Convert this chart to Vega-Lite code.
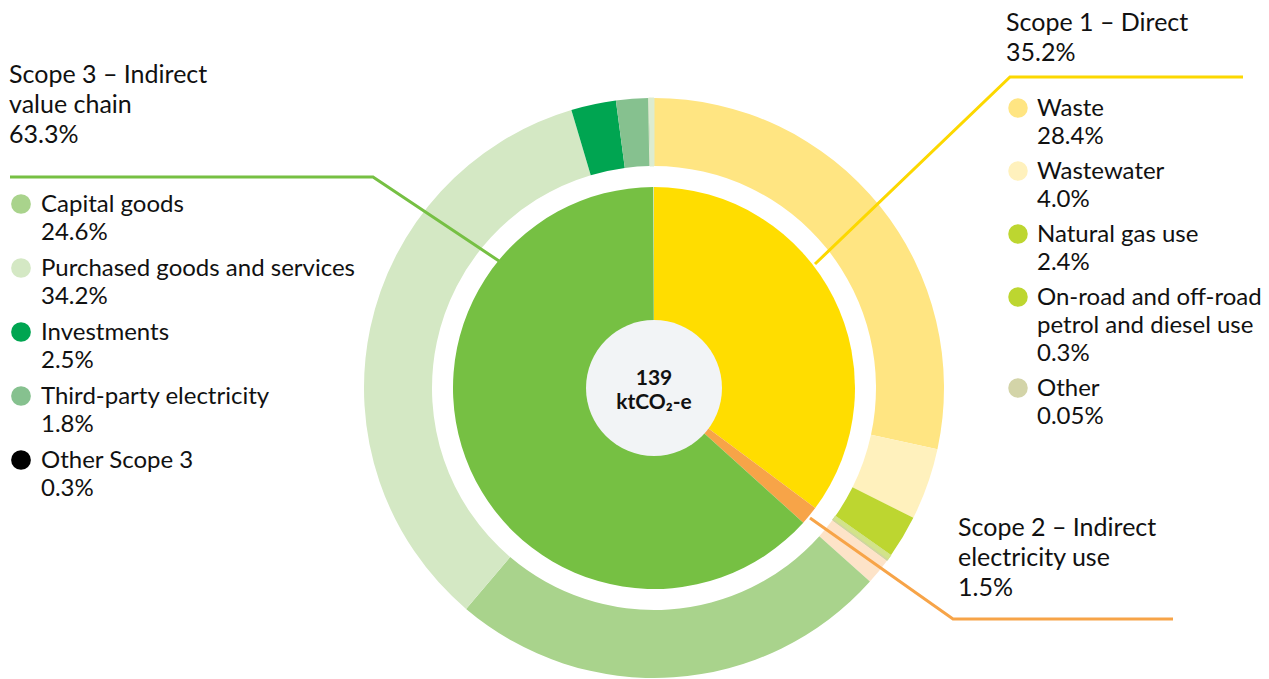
{
  "$schema": "https://vega.github.io/schema/vega-lite/v6.json",
  "width": 1269,
  "height": 679,
  "autosize": {"type": "fit", "contains": "padding"},
  "padding": 0,
  "background": "white",
  "config": {"view": {"stroke": null}, "font": "Lato", "text": {"font": "Lato"}},
  "datasets": {
    "ring": [
      {"scope": "Scope 1", "category": "Waste", "share": 28.4, "pct": "28.4%"},
      {"scope": "Scope 1", "category": "Wastewater", "share": 4.0, "pct": "4.0%"},
      {"scope": "Scope 1", "category": "Natural gas use", "share": 2.4, "pct": "2.4%"},
      {"scope": "Scope 1", "category": "On-road and off-road petrol and diesel use", "share": 0.3, "pct": "0.3%"},
      {"scope": "Scope 1", "category": "Other", "share": 0.05, "pct": "0.05%"},
      {"scope": "Scope 2", "category": "Electricity use", "share": 1.5, "pct": "1.5%"},
      {"scope": "Scope 3", "category": "Capital goods", "share": 24.6, "pct": "24.6%"},
      {"scope": "Scope 3", "category": "Purchased goods and services", "share": 34.2, "pct": "34.2%"},
      {"scope": "Scope 3", "category": "Investments", "share": 2.5, "pct": "2.5%"},
      {"scope": "Scope 3", "category": "Third-party electricity", "share": 1.8, "pct": "1.8%"},
      {"scope": "Scope 3", "category": "Other Scope 3", "share": 0.3, "pct": "0.3%"}
    ],
    "scopes": [
      {"scope": "Scope 1", "share": 35.2},
      {"scope": "Scope 2", "share": 1.5},
      {"scope": "Scope 3", "share": 63.3}
    ],
    "leaders": [
      {"scope": "Scope 3", "seq": 1, "lx": -644, "ly": 211},
      {"scope": "Scope 3", "seq": 2, "lx": -281, "ly": 211},
      {"scope": "Scope 3", "seq": 3, "lx": -155, "ly": 127},
      {"scope": "Scope 1", "seq": 1, "lx": 589, "ly": 311},
      {"scope": "Scope 1", "seq": 2, "lx": 356, "ly": 311},
      {"scope": "Scope 1", "seq": 3, "lx": 161, "ly": 124},
      {"scope": "Scope 2", "seq": 1, "lx": 156, "ly": -130},
      {"scope": "Scope 2", "seq": 2, "lx": 299, "ly": -231},
      {"scope": "Scope 2", "seq": 3, "lx": 519, "ly": -231}
    ]
  },
  "layer": [
    {
      "data": {"name": "ring"},
      "transform": [
        {"stack": "share", "groupby": [], "as": ["v0", "v1"]},
        {"filter": "datum.scope === 'Scope 1'"},
        {"calculate": "datum.category + '|' + datum.pct", "as": "key"}
      ],
      "mark": {"type": "arc", "radius": 290, "radius2": 222},
      "encoding": {
        "x": {"datum": 0, "type": "quantitative", "scale": {"domain": [-654, 615], "nice": false, "zero": false}, "axis": null},
        "y": {"datum": 0, "type": "quantitative", "scale": {"domain": [-291, 388], "nice": false, "zero": false}, "axis": null},
        "theta": {"field": "v0", "type": "quantitative", "scale": {"domain": [0, 100.05]}},
        "theta2": {"field": "v1"},
        "color": {
          "field": "key",
          "type": "nominal",
          "scale": {
            "domain": ["Waste|28.4%", "Wastewater|4.0%", "Natural gas use|2.4%", "On-road and off-road petrol and diesel use|0.3%", "Other|0.05%"],
            "range": ["#ffe582", "#fff1bd", "#bdd630", "#bdd630", "#d3d4a8"]
          },
          "legend": {
            "orient": "none",
            "legendX": 1006,
            "legendY": 11,
            "title": ["Scope 1 – Direct", "35.2%"],
            "titleFont": "Lato",
            "titleFontSize": 25,
            "titleFontWeight": "normal",
            "titleColor": "#111111",
            "titleLineHeight": 30,
            "titleBaseline": "top",
            "titleLimit": 600,
            "titlePadding": 30,
            "labelFont": "Lato",
            "labelFontSize": 24,
            "labelColor": "#111111",
            "labelLimit": 600,
            "labelBaseline": "alphabetic",
            "labelOffset": 7,
            "labelExpr": "split(replace(datum.label, 'off-road petrol', 'off-road|petrol'), '|')",
            "symbolType": "circle",
            "symbolSize": 380,
            "symbolStrokeWidth": 0,
            "symbolOpacity": 1,
            "rowPadding": 10,
            "encode": {
              "labels": {"update": {"dy": {"value": 8}, "lineHeight": {"value": 28}}}
            }
          }
        }
      }
    },
    {
      "data": {"name": "ring"},
      "transform": [
        {"stack": "share", "groupby": [], "as": ["v0", "v1"]},
        {"filter": "datum.scope === 'Scope 2'"}
      ],
      "mark": {"type": "arc", "radius": 290, "radius2": 222},
      "encoding": {
        "x": {"datum": 0, "type": "quantitative", "scale": {"domain": [-654, 615], "nice": false, "zero": false}, "axis": null},
        "y": {"datum": 0, "type": "quantitative", "scale": {"domain": [-291, 388], "nice": false, "zero": false}, "axis": null},
        "theta": {"field": "v0", "type": "quantitative", "scale": {"domain": [0, 100.05]}},
        "theta2": {"field": "v1"},
        "color": {"field": "category", "type": "nominal", "scale": {"range": ["#fde3c8"]}, "legend": null}
      }
    },
    {
      "data": {"name": "ring"},
      "transform": [
        {"stack": "share", "groupby": [], "as": ["v0", "v1"]},
        {"filter": "datum.scope === 'Scope 3'"},
        {"calculate": "datum.category + '|' + datum.pct", "as": "key"}
      ],
      "mark": {"type": "arc", "radius": 290, "radius2": 222},
      "encoding": {
        "x": {"datum": 0, "type": "quantitative", "scale": {"domain": [-654, 615], "nice": false, "zero": false}, "axis": null},
        "y": {"datum": 0, "type": "quantitative", "scale": {"domain": [-291, 388], "nice": false, "zero": false}, "axis": null},
        "theta": {"field": "v0", "type": "quantitative", "scale": {"domain": [0, 100.05]}},
        "theta2": {"field": "v1"},
        "color": {
          "field": "key",
          "type": "nominal",
          "scale": {
            "domain": ["Capital goods|24.6%", "Purchased goods and services|34.2%", "Investments|2.5%", "Third-party electricity|1.8%", "Other Scope 3|0.3%"],
            "range": ["#a9d38c", "#d4e8c4", "#00a551", "#86c18f", "#000000"]
          },
          "legend": {
            "orient": "none",
            "legendX": 9,
            "legendY": 63,
            "title": ["Scope 3 – Indirect", "value chain", "63.3%"],
            "titleFont": "Lato",
            "titleFontSize": 25,
            "titleFontWeight": "normal",
            "titleColor": "#111111",
            "titleLineHeight": 30,
            "titleBaseline": "top",
            "titleLimit": 600,
            "titlePadding": 44,
            "labelFont": "Lato",
            "labelFontSize": 24,
            "labelColor": "#111111",
            "labelLimit": 600,
            "labelBaseline": "alphabetic",
            "labelOffset": 8,
            "labelExpr": "split(datum.label, '|')",
            "symbolType": "circle",
            "symbolSize": 390,
            "symbolStrokeWidth": 0,
            "symbolOpacity": 1,
            "rowPadding": 11,
            "encode": {
              "labels": {"update": {"dy": {"value": 8}, "lineHeight": {"value": 28}}}
            }
          }
        }
      }
    },
    {
      "data": {"name": "ring"},
      "transform": [
        {"stack": "share", "groupby": [], "as": ["v0", "v1"]},
        {"filter": "datum.category === 'Other Scope 3' || datum.category === 'On-road and off-road petrol and diesel use' || datum.category === 'Other'"}
      ],
      "mark": {"type": "arc", "radius": 290, "radius2": 222, "strokeWidth": 1},
      "encoding": {
        "x": {"datum": 0, "type": "quantitative", "scale": {"domain": [-654, 615], "nice": false, "zero": false}, "axis": null},
        "y": {"datum": 0, "type": "quantitative", "scale": {"domain": [-291, 388], "nice": false, "zero": false}, "axis": null},
        "theta": {"field": "v0", "type": "quantitative", "scale": {"domain": [0, 100.05]}},
        "theta2": {"field": "v1"},
        "color": {"field": "category", "type": "nominal", "scale": {"domain": ["On-road and off-road petrol and diesel use", "Other", "Other Scope 3"], "range": ["#d2e38a", "#cfd6a0", "#dcecd0"]}, "legend": null},
        "stroke": {"field": "category", "type": "nominal", "scale": {"domain": ["On-road and off-road petrol and diesel use", "Other", "Other Scope 3"], "range": ["#d2e38a", "#cfd6a0", "#dcecd0"]}, "legend": null}
      }
    },
    {
      "data": {"name": "scopes"},
      "transform": [
        {"stack": "share", "groupby": [], "as": ["v0", "v1"]}
      ],
      "mark": {"type": "arc", "radius": 201, "radius2": 0},
      "encoding": {
        "x": {"datum": 0, "type": "quantitative", "scale": {"domain": [-654, 615], "nice": false, "zero": false}, "axis": null},
        "y": {"datum": 0, "type": "quantitative", "scale": {"domain": [-291, 388], "nice": false, "zero": false}, "axis": null},
        "theta": {"field": "v0", "type": "quantitative", "scale": {"domain": [0, 100.05]}},
        "theta2": {"field": "v1"},
        "color": {"field": "scope", "type": "nominal", "scale": {"domain": ["Scope 1", "Scope 2", "Scope 3"], "range": ["#ffdd00", "#f7a448", "#76c043"]}, "legend": null}
      }
    },
    {
      "data": {"values": [{"label": "total"}]},
      "mark": {"type": "arc", "radius": 68, "radius2": 0, "theta": 0, "theta2": 6.2832, "color": "#f2f4f6"},
      "encoding": {
        "x": {"datum": 0, "type": "quantitative", "scale": {"domain": [-654, 615], "nice": false, "zero": false}, "axis": null},
        "y": {"datum": 0, "type": "quantitative", "scale": {"domain": [-291, 388], "nice": false, "zero": false}, "axis": null}
      }
    },
    {
      "data": {"values": [{"label": "total"}]},
      "mark": {"type": "text", "text": ["139", "ktCO₂-e"], "font": "Lato", "fontSize": 21, "fontWeight": "bold", "lineHeight": 24, "align": "center", "baseline": "middle", "dy": -9, "color": "#111111"},
      "encoding": {
        "x": {"datum": 0, "type": "quantitative", "scale": {"domain": [-654, 615], "nice": false, "zero": false}, "axis": null},
        "y": {"datum": 0, "type": "quantitative", "scale": {"domain": [-291, 388], "nice": false, "zero": false}, "axis": null}
      }
    },
    {
      "data": {"name": "leaders"},
      "mark": {"type": "line", "strokeWidth": 3, "interpolate": "linear"},
      "encoding": {
        "x": {"field": "lx", "type": "quantitative", "scale": {"domain": [-654, 615], "nice": false, "zero": false}, "axis": null},
        "y": {"field": "ly", "type": "quantitative", "scale": {"domain": [-291, 388], "nice": false, "zero": false}, "axis": null},
        "order": {"field": "seq", "type": "quantitative"},
        "detail": {"field": "scope", "type": "nominal"},
        "color": {"field": "scope", "type": "nominal", "scale": {"domain": ["Scope 1", "Scope 2", "Scope 3"], "range": ["#fcd800", "#f7a448", "#76c043"]}, "legend": null}
      }
    },
    {
      "data": {"values": [{"label": "Scope 2"}]},
      "mark": {"type": "text", "text": ["Scope 2 – Indirect", "electricity use", "1.5%"], "font": "Lato", "fontSize": 25, "lineHeight": 30, "align": "left", "baseline": "alphabetic", "color": "#111111"},
      "encoding": {
        "x": {"datum": 304, "type": "quantitative", "scale": {"domain": [-654, 615], "nice": false, "zero": false}, "axis": null},
        "y": {"datum": -148, "type": "quantitative", "scale": {"domain": [-291, 388], "nice": false, "zero": false}, "axis": null}
      }
    }
  ],
  "resolve": {"scale": {"color": "independent"}, "legend": {"color": "independent"}}
}
